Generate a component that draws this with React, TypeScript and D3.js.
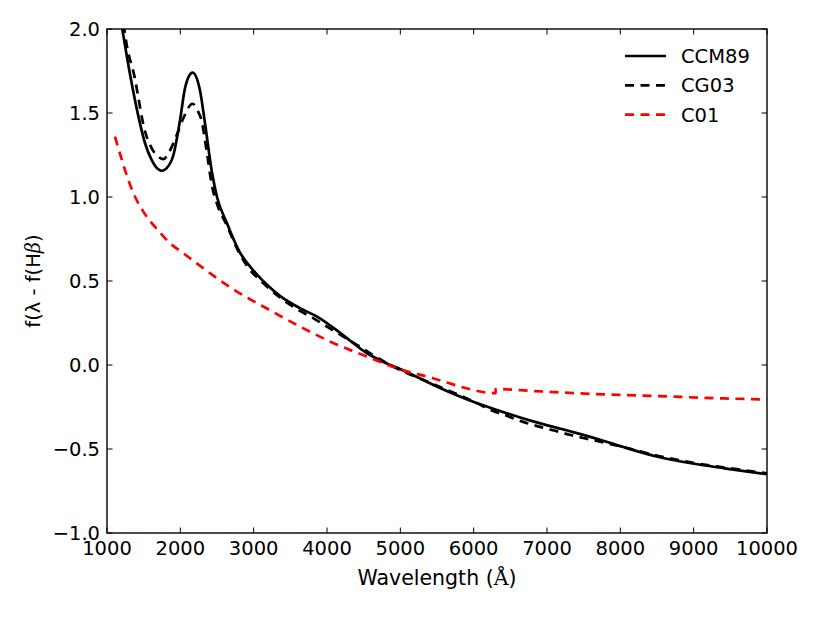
import React, { Component } from 'react';
import * as d3 from 'd3';

// Wavelengths (Angstrom) and normalised extinction f(lambda) - f(Hbeta)
const ccmWave = [1190, 1314, 1428, 1519, 1610, 1700, 1750, 1810, 1906, 1997, 2065, 2166, 2270, 2339, 2430, 2500, 2635, 2800, 3022, 3200, 3363, 3636, 3864, 4183, 4547, 4861, 5002, 5457, 5913, 6368, 6823, 7279, 7734, 8053, 8509, 8964, 9419, 10000];
const ccmVal = [2.05, 1.73, 1.48, 1.32, 1.22, 1.165, 1.155, 1.17, 1.25, 1.46, 1.65, 1.74, 1.63, 1.43, 1.15, 1.0, 0.845, 0.68, 0.55, 0.47, 0.41, 0.337, 0.288, 0.19, 0.07, 0.0, -0.025, -0.12, -0.205, -0.275, -0.337, -0.39, -0.446, -0.49, -0.546, -0.585, -0.615, -0.65];

const cgWave = [1225, 1269, 1383, 1428, 1496, 1610, 1700, 1769, 1850, 1952, 2042, 2166, 2230, 2292, 2360, 2430, 2500, 2635, 2800, 2930, 3100, 3363, 3600, 3818, 4000, 4228, 4410, 4700, 4861, 5457, 6050, 6232, 6460, 6665, 6892, 7097, 7325, 7553, 8053, 8509, 8964, 9419, 10000];
const cgVal = [2.03, 1.905, 1.70, 1.59, 1.43, 1.29, 1.24, 1.225, 1.27, 1.37, 1.47, 1.555, 1.52, 1.45, 1.27, 1.07, 0.96, 0.83, 0.67, 0.577, 0.5, 0.4, 0.33, 0.278, 0.228, 0.168, 0.119, 0.04, 0.0, -0.115, -0.228, -0.268, -0.304, -0.337, -0.367, -0.39, -0.417, -0.44, -0.49, -0.54, -0.58, -0.61, -0.645];

const c01Wave = [1109, 1200, 1300, 1400, 1500, 1600, 1700, 1861, 2042, 2224, 2407, 2589, 2771, 2977, 3181, 3363, 3636, 4091, 4547, 4957, 5457, 5913, 6186, 6299, 6300, 6823, 7505, 8509, 9419, 10000];
const c01Val = [1.36, 1.225, 1.09, 0.985, 0.91, 0.85, 0.8, 0.724, 0.665, 0.605, 0.546, 0.489, 0.437, 0.385, 0.336, 0.292, 0.228, 0.13, 0.05, -0.02, -0.08, -0.14, -0.165, -0.168, -0.143, -0.155, -0.17, -0.185, -0.199, -0.205];

const seriesNames = ['CCM89', 'CG03', 'C01'];
const seriesColours = ['#000000', '#000000', '#ff0000'];
const seriesDashes = [null, '9,6.5', '9,6.5'];

const xTicks = [1000, 2000, 3000, 4000, 5000, 6000, 7000, 8000, 9000, 10000];
const yTicks = [-1.0, -0.5, 0.0, 0.5, 1.0, 1.5, 2.0];

interface Point { w: number, v: number }

export default class App extends Component {
    private canvas: any = React.createRef();

    componentDidMount() {
        this.buildChart();
    }

    buildChart = () => {
        const width = 817;
        const height = 617;
        const margin = { top: 29, right: 50, bottom: 84, left: 107 };
        const font = 'DejaVu Sans';
        const fontSize = 19.5;

        const root = d3.select(this.canvas.current);
        root.selectAll('*').remove();

        const svg = root.append('svg')
            .attr('width', width)
            .attr('height', height)
            .style('position', 'absolute')
            .style('left', 0)
            .style('top', 0)
            .style('background', '#fff');

        const x = d3.scaleLinear().domain([1000, 10000]).range([margin.left, width - margin.right]);
        const y = d3.scaleLinear().domain([-1, 2]).range([height - margin.bottom, margin.top]);

        svg.append('clipPath').attr('id', 'plotClip')
            .append('rect')
            .attr('x', x(1000)).attr('y', y(2))
            .attr('width', x(10000) - x(1000)).attr('height', y(-1) - y(2));

        const series: Point[][] = [
            ccmWave.map((w, i) => ({ w, v: ccmVal[i] })),
            cgWave.map((w, i) => ({ w, v: cgVal[i] })),
            c01Wave.map((w, i) => ({ w, v: c01Val[i] }))
        ];

        const line = d3.line<Point>()
            .x(d => x(d.w))
            .y(d => y(d.v))
            .curve(d3.curveMonotoneX);

        const plot = svg.append('g').attr('clip-path', 'url(#plotClip)');
        series.forEach((data, i) => {
            plot.append('path')
                .attr('d', line(data))
                .attr('fill', 'none')
                .attr('stroke', seriesColours[i])
                .attr('stroke-width', 2.7)
                .attr('stroke-dasharray', seriesDashes[i])
                .attr('stroke-linejoin', 'round');
        });

        // Frame and inward ticks on all four sides
        const tickLen = 5.5;
        const frame = svg.append('g').attr('stroke', '#000').attr('stroke-width', 1);
        xTicks.forEach(t => {
            frame.append('line').attr('x1', x(t)).attr('x2', x(t)).attr('y1', y(-1)).attr('y2', y(-1) - tickLen);
            frame.append('line').attr('x1', x(t)).attr('x2', x(t)).attr('y1', y(2)).attr('y2', y(2) + tickLen);
        });
        yTicks.forEach(t => {
            frame.append('line').attr('x1', x(1000)).attr('x2', x(1000) + tickLen).attr('y1', y(t)).attr('y2', y(t));
            frame.append('line').attr('x1', x(10000)).attr('x2', x(10000) - tickLen).attr('y1', y(t)).attr('y2', y(t));
        });
        svg.append('rect')
            .attr('x', x(1000)).attr('y', y(2))
            .attr('width', x(10000) - x(1000)).attr('height', y(-1) - y(2))
            .attr('fill', 'none').attr('stroke', '#000').attr('stroke-width', 1.4);

        const fmtY = (t: number) => d3.format('.1f')(t).replace('-', '\u2212');

        svg.selectAll('.xTick')
            .data(xTicks)
            .enter().append('text')
            .attr('class', 'xTick')
            .attr('x', d => x(d))
            .attr('y', y(-1) + 22)
            .attr('text-anchor', 'middle')
            .attr('font-family', font)
            .attr('font-size', fontSize)
            .text(d => String(d));

        svg.selectAll('.yTick')
            .data(yTicks)
            .enter().append('text')
            .attr('class', 'yTick')
            .attr('x', x(1000) - 7)
            .attr('y', d => y(d) + 7)
            .attr('text-anchor', 'end')
            .attr('font-family', font)
            .attr('font-size', fontSize)
            .text(d => fmtY(d));

        // Axis titles
        const xTitle = svg.append('text')
            .attr('x', (x(1000) + x(10000)) / 2)
            .attr('y', 585)
            .attr('text-anchor', 'middle')
            .attr('font-family', font)
            .attr('font-size', 20.5);
        xTitle.append('tspan').text('Wavelength (');
        xTitle.append('tspan').attr('font-family', 'DejaVu Serif').text('\u00c5');
        xTitle.append('tspan').text(')');

        const yTitle = svg.append('text')
            .attr('transform', `translate(40, ${(y(-1) + y(2)) / 2}) rotate(-90)`)
            .attr('text-anchor', 'middle')
            .attr('font-family', font)
            .attr('font-size', fontSize);
        yTitle.append('tspan').text('f(\u03bb - f(H');
        yTitle.append('tspan').attr('font-family', 'DejaVu Serif').attr('font-style', 'italic').text('\u03b2');
        yTitle.append('tspan').text(')');

        // Legend
        const legend = svg.append('g');
        seriesNames.forEach((name, i) => {
            const ly = 56 + i * 29.3;
            legend.append('line')
                .attr('x1', 625).attr('x2', 666)
                .attr('y1', ly).attr('y2', ly)
                .attr('stroke', seriesColours[i])
                .attr('stroke-width', 2.7)
                .attr('stroke-dasharray', seriesDashes[i]);
            legend.append('text')
                .attr('x', 681)
                .attr('y', ly + 7)
                .attr('font-family', font)
                .attr('font-size', fontSize)
                .text(name);
        });
    }

    render() {
        return (
            <div ref={this.canvas}></div>
        );
    }
}
